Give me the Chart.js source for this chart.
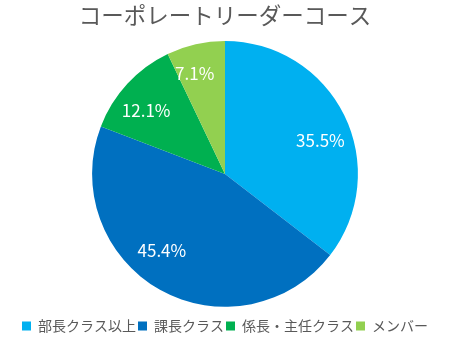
<!DOCTYPE html>
<html lang="ja">
<head>
  <meta charset="UTF-8">
  <title>コーポレートリーダーコース</title>
  <script src="https://cdn.jsdelivr.net/npm/chart.js"></script>
  <style>
    html, body {
      margin: 0;
      padding: 0;
      background: #fff;
    }

    #wrap {
      width: 450px;
      height: 338px;
    }
  </style>
</head>
<body>

  <div id="wrap">
    <canvas id="pieChart"></canvas>
  </div>

  <script>
    const categories = ['部長クラス以上', '課長クラス', '係長・主任クラス', 'メンバー'];
    const shares = [35.5, 45.4, 12.1, 7.1];
    const sliceColors = ['#00b0f0', '#0070c0', '#00b050', '#92d050'];

    const FONT = '"Noto Sans CJK JP", "Noto Sans", sans-serif';

    // 扇形の内側にパーセント表示（角度は中心からの少しずらし、度）
    const sliceLabels = {
      id: 'sliceLabels',
      afterDatasetsDraw(chart, args, opts) {
        const ctx = chart.ctx;
        const meta = chart.getDatasetMeta(0);
        const nudge = opts.nudge || [];
        ctx.save();
        ctx.fillStyle = '#fff';
        ctx.font = '17px ' + FONT;
        ctx.textAlign = 'center';
        ctx.textBaseline = 'middle';
        meta.data.forEach((arc, i) => {
          const mid = (arc.startAngle + arc.endAngle) / 2 + (nudge[i] || 0) * Math.PI / 180;
          const r = arc.outerRadius * opts.radius[i];
          const x = arc.x + Math.cos(mid) * r;
          const y = arc.y + Math.sin(mid) * r;
          ctx.fillText(shares[i].toFixed(1) + '%', x, y);
        });
        ctx.restore();
      }
    };

    new Chart(document.getElementById('pieChart'), {
      type: 'pie',
      data: {
        labels: categories,
        datasets: [{
          data: shares,
          backgroundColor: sliceColors,
          borderWidth: 0
        }]
      },
      options: {
        responsive: true,
        maintainAspectRatio: false,
        animation: false,
        layout: {
          padding: { top: 0, bottom: -5 }
        },
        plugins: {
          title: {
            display: true,
            text: 'コーポレートリーダーコース',
            color: '#595959',
            font: { family: FONT, size: 22.5, weight: 'normal' },
            padding: { top: 2, bottom: 12 }
          },
          legend: {
            position: 'bottom',
            // 空のタイトルで円と凡例の間をあける
            title: {
              display: true,
              text: ' ',
              font: { size: 1 },
              padding: { top: 9, bottom: 0 }
            },
            labels: {
              color: '#595959',
              font: { family: FONT, size: 14 },
              boxWidth: 9,
              boxHeight: 9,
              padding: 2
            }
          },
          tooltip: { enabled: false },
          sliceLabels: {
            radius: [0.76, 0.75, 0.76, 0.79],
            nudge: [7, 10, -4, -4]
          }
        }
      },
      plugins: [sliceLabels]
    });
  </script>

</body>
</html>
